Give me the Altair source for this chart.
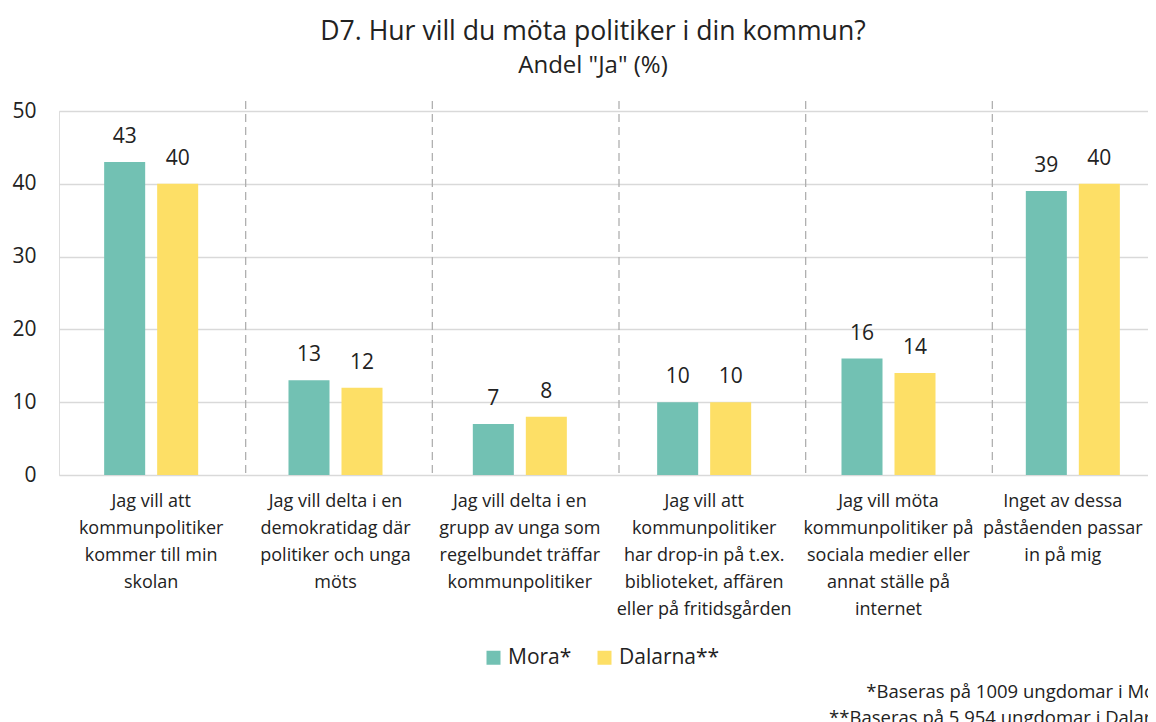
import altair as alt
import pandas as pd

categories = [
    "Jag vill att\nkommunpolitiker\nkommer till min\nskolan",
    "Jag vill delta i en\ndemokratidag där\npolitiker och unga\nmöts",
    "Jag vill delta i en\ngrupp av unga som\nregelbundet träffar\nkommunpolitiker",
    "Jag vill att\nkommunpolitiker\nhar drop-in på t.ex.\nbiblioteket, affären\neller på fritidsgården",
    "Jag vill möta\nkommunpolitiker på\nsociala medier eller\nannat ställe på\ninternet",
    "Inget av dessa\npåståenden passar\nin på mig",
]
series = ["Mora*", "Dalarna**"]
mora = [43, 13, 7, 10, 16, 39]
dalarna = [40, 12, 8, 10, 14, 40]
colors = ["#72C1B3", "#FDDF66"]
y_ticks = [0, 10, 20, 30, 40, 50]
title_text = "D7. Hur vill du möta politiker i din kommun?"
subtitle_text = 'Andel "Ja" (%)'
footnote = "*Baseras på 1009 ungdomar i Mora\n**Baseras på 5 954 ungdomar i Dalarna"

rows = []
for c, m, d in zip(categories, mora, dalarna):
    rows.append({"kategori": c, "serie": series[0], "andel": m})
    rows.append({"kategori": c, "serie": series[1], "andel": d})
df = pd.DataFrame(rows)
sep = pd.DataFrame({"kategori": categories[1:]})
foot_df = pd.DataFrame({"t": [footnote]})

W, H = 1106, 364
SEP_W = 1120
FONT = "Open Sans"
TXT = "#222222"

xscale = alt.Scale(domain=categories, paddingInner=0, paddingOuter=0)
xaxis = alt.Axis(
    title=None, labelAngle=0, domain=False, ticks=False, grid=False,
    labelExpr="split(datum.label, '\\n')", labelFontSize=18, labelLineHeight=27,
    labelPadding=17, labelColor=TXT, labelLimit=0, labelFont=FONT,
    labelOffset={"condition": {"test": "datum.index > 0.9", "value": -10}, "value": 0},
)
x = alt.X("kategori:N", scale=xscale, sort=categories, axis=xaxis)
xo = alt.XOffset("serie:N", sort=series,
                 scale=alt.Scale(domain=series, paddingInner=0.226, paddingOuter=0.852))
y = alt.Y("andel:Q", scale=alt.Scale(domain=[0, 50]),
          axis=alt.Axis(title=None, values=y_ticks, domain=False, ticks=False,
                        labelFontSize=21, labelPadding=23, labelColor=TXT, labelFont=FONT,
                        gridColor="#d9d9d9", gridWidth=1.6))
color = alt.Color("serie:N", sort=series,
                  scale=alt.Scale(domain=series, range=colors),
                  legend=alt.Legend(title=None, orient="none", legendX=424, legendY=536,
                                    direction="horizontal", symbolType="square",
                                    symbolSize=196, symbolStrokeWidth=0,
                                    labelFontSize=21, labelFont=FONT, labelColor=TXT,
                                    labelOffset=4, columnPadding=22))

base = alt.Chart(df)
bars = base.mark_bar().encode(x=x, xOffset=xo, y=y, color=color)
labels = base.mark_text(fontSize=21, dy=-19, baseline="alphabetic", color=TXT, font=FONT).encode(
    x=x, xOffset=xo, y=y, text="andel:Q")
main = alt.layer(bars, labels)

seps = alt.Chart(sep).mark_rule(strokeDash=[8, 5], color="#b0b0b0", strokeWidth=1.3).encode(
    x=alt.X("kategori:N", sort=categories, bandPosition=0, axis=None,
            scale=alt.Scale(domain=categories, paddingInner=0, paddingOuter=0, range=[0, SEP_W])),
    y=alt.value(-10), y2=alt.value(H + 3))

foot = alt.Chart(foot_df).mark_text(align="right", baseline="middle", fontSize=18.5, font=FONT,
                                    color=TXT, lineBreak="\n", lineHeight=26).encode(
    x=alt.value(1114), y=alt.value(581), text="t:N")

chart = alt.layer(seps, main, foot).resolve_scale(x="independent").properties(
    width=W, height=H,
    autosize=alt.AutoSizeParams(type="none"),
    padding={"left": 51, "top": 103, "right": 1140 - 51 - W, "bottom": 247},
    title=alt.TitleParams(title_text, subtitle=subtitle_text, fontSize=26.6, subtitleFontSize=24,
                          font=FONT, subtitleFont=FONT, fontWeight="normal", color=TXT,
                          subtitleColor=TXT, anchor="middle", dx=-19, offset=22,
                          subtitlePadding=8),
).configure_view(stroke=None).configure(font=FONT)

chart.save("out.html", embed_options={"renderer": "svg", "actions": False})
